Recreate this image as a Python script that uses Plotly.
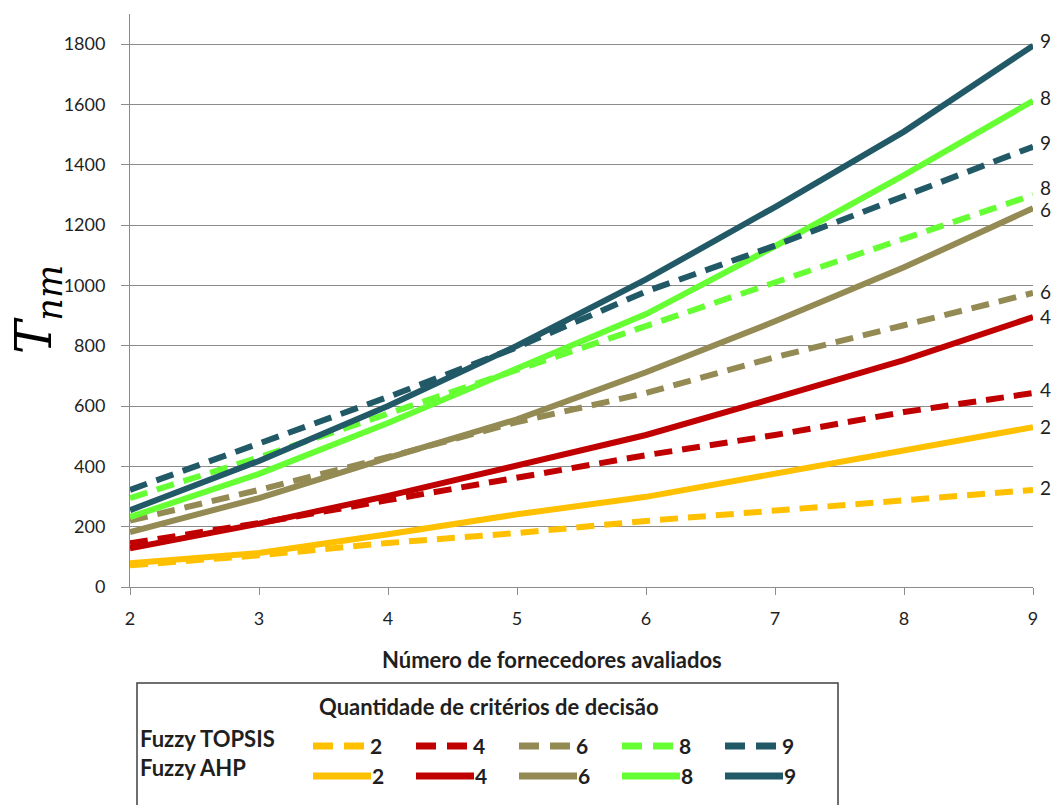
import plotly.graph_objects as go

# Number of suppliers evaluated
suppliers = [2, 3, 4, 5, 6, 7, 8, 9]
criteria = [2, 4, 6, 8, 9]

# Fuzzy TOPSIS (dashed) and Fuzzy AHP (solid), one series per number of criteria
topsis_2 = [72, 105, 146, 179, 219, 255, 291, 322]
topsis_4 = [145, 212, 288, 365, 437, 504, 580, 643]
topsis_6 = [220, 322, 431, 547, 643, 762, 868, 975]
topsis_8 = [295, 430, 575, 720, 865, 1005, 1150, 1300]
topsis_9 = [322, 475, 630, 795, 980, 1132, 1295, 1460]

ahp_2 = [79, 113, 175, 241, 299, 377, 450, 530]
ahp_4 = [128, 210, 302, 403, 504, 627, 752, 895]
ahp_6 = [182, 295, 428, 556, 712, 881, 1060, 1256]
ahp_8 = [232, 375, 544, 726, 905, 1130, 1366, 1612]
ahp_9 = [255, 418, 600, 800, 1020, 1260, 1510, 1795]

y_ticks = [0, 200, 400, 600, 800, 1000, 1200, 1400, 1600, 1800]

colors = ["#FFC000", "#C00000", "#948A54", "#66FF33", "#215967"]
topsis = [topsis_2, topsis_4, topsis_6, topsis_8, topsis_9]
ahp = [ahp_2, ahp_4, ahp_6, ahp_8, ahp_9]

# vertical nudge (px) of the end-of-line labels, so neighbours don't collide
shift_topsis = [2, 4, 1, 7, 4]
shift_ahp = [1, 1, -1, 3, 5]

W, H = 1053, 805
L, R, T, B = 130, 20, 14, 218
PW, PH = W - L - R, H - T - B


def px(x):
    return (x - L) / PW


def py(y):
    return (H - B - y) / PH


TXT = "#1f1f1f"
FONT = "Lato"

fig = go.Figure()
annotations = []
for n, col, ys_t, ys_a, st, sa in zip(criteria, colors, topsis, ahp, shift_topsis, shift_ahp):
    fig.add_trace(go.Scatter(x=suppliers, y=ys_t, mode="lines",
                             line=dict(color=col, width=6, dash="18px,10px"),
                             name=f"Fuzzy TOPSIS {n}", showlegend=False))
    fig.add_trace(go.Scatter(x=suppliers, y=ys_a, mode="lines",
                             line=dict(color=col, width=6),
                             name=f"Fuzzy AHP {n}", showlegend=False))
    for ys, s in ((ys_t, st), (ys_a, sa)):
        annotations.append(dict(x=suppliers[-1], y=ys[-1], xref="x", yref="y",
                                text=str(n), showarrow=False, xanchor="left",
                                yanchor="middle", xshift=5, yshift=s,
                                font=dict(family=FONT, size=19, color=TXT)))

# axis titles
annotations.append(dict(x=px(37), y=py(310), xref="paper", yref="paper",
                        xanchor="center", yanchor="middle",
                        text="<i>T<sub>nm</sub></i>", textangle=-90, showarrow=False,
                        font=dict(family="DejaVu Serif", size=50, color="#000000")))
annotations.append(dict(x=px(552), y=py(660), xref="paper", yref="paper",
                        xanchor="center", yanchor="middle",
                        text="<b>Número de fornecedores avaliados</b>", showarrow=False,
                        font=dict(family=FONT, size=22, color=TXT)))

# legend box drawn by hand: two rows (TOPSIS dashed, AHP solid)
shapes = [dict(type="rect", xref="paper", yref="paper",
               x0=px(137), x1=px(838), y0=py(812), y1=py(683),
               line=dict(color="#404040", width=1.5), fillcolor="white", layer="above")]
annotations.append(dict(x=px(489), y=py(706), xref="paper", yref="paper",
                        xanchor="center", yanchor="middle",
                        text="<b>Quantidade de critérios de decisão</b>", showarrow=False,
                        font=dict(family=FONT, size=22, color=TXT)))
annotations.append(dict(x=px(138), y=py(738), xref="paper", yref="paper",
                        xanchor="left", yanchor="middle",
                        text="<b>Fuzzy TOPSIS</b>", showarrow=False,
                        font=dict(family=FONT, size=22, color=TXT)))
annotations.append(dict(x=px(138), y=py(768), xref="paper", yref="paper",
                        xanchor="left", yanchor="middle",
                        text="<b>Fuzzy AHP</b>", showarrow=False,
                        font=dict(family=FONT, size=22, color=TXT)))
for i, (n, col) in enumerate(zip(criteria, colors)):
    x0 = 313 + i * 103
    # dashed sample: two dashes
    shapes.append(dict(type="line", xref="paper", yref="paper",
                       x0=px(x0), x1=px(x0 + 20), y0=py(746), y1=py(746),
                       line=dict(color=col, width=7)))
    shapes.append(dict(type="line", xref="paper", yref="paper",
                       x0=px(x0 + 31), x1=px(x0 + 51), y0=py(746), y1=py(746),
                       line=dict(color=col, width=7)))
    shapes.append(dict(type="line", xref="paper", yref="paper",
                       x0=px(x0), x1=px(x0 + 58), y0=py(776), y1=py(776),
                       line=dict(color=col, width=7)))
    for yy in (745, 775):
        annotations.append(dict(x=px(x0 + 55 if yy == 745 else x0 + 57), y=py(yy),
                                xref="paper", yref="paper",
                                xanchor="left", yanchor="middle",
                                text=f"<b>{n}</b>", showarrow=False,
                                font=dict(family=FONT, size=21, color=TXT)))

fig.update_layout(
    width=W, height=H,
    margin=dict(l=L, r=R, t=T, b=B),
    plot_bgcolor="white", paper_bgcolor="white",
    annotations=annotations, shapes=shapes,
    font=dict(family=FONT, size=18, color=TXT),
)
fig.update_xaxes(range=[2, 9], tickvals=suppliers, showgrid=False, showline=True,
                 linecolor="#8c8c8c", linewidth=1, ticks="outside", ticklen=7,
                 tickcolor="#8c8c8c", zeroline=False, ticklabelstandoff=8,
                 tickfont=dict(family=FONT, size=18, color=TXT))
fig.update_yaxes(range=[0, 1900], tickvals=y_ticks, showgrid=True, gridcolor="#8c8c8c",
                 gridwidth=1, showline=True, linecolor="#8c8c8c", linewidth=1,
                 ticks="outside", ticklen=8, tickcolor="#8c8c8c", zeroline=False,
                 ticklabelstandoff=12,
                 tickfont=dict(family=FONT, size=18, color=TXT))

fig.write_html("out.html")
